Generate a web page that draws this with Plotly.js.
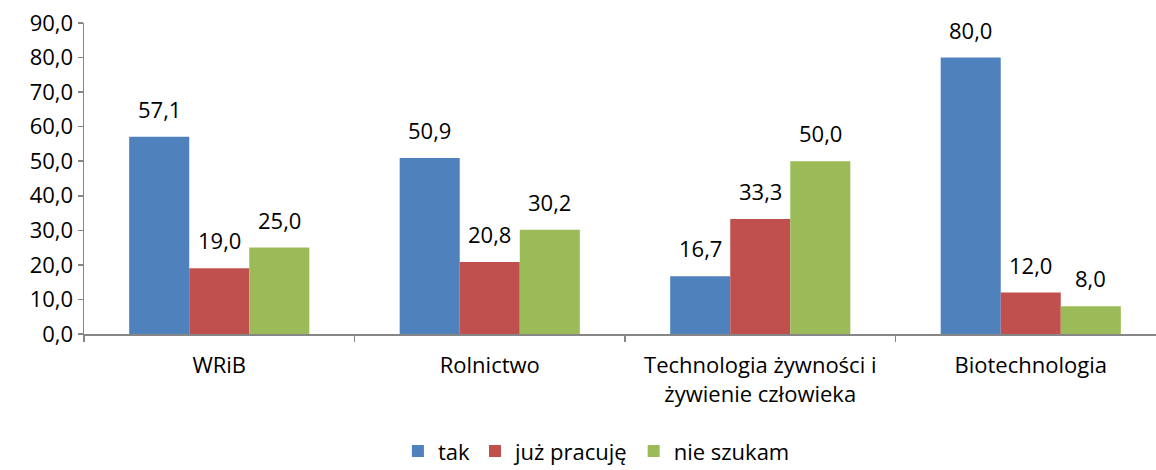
<!DOCTYPE html>
<html>
<head>
<meta charset="utf-8">
<script src="https://cdn.plot.ly/plotly-3.0.1.min.js"></script>
<style>html,body{margin:0;padding:0;background:#fff;}#chart{width:1156px;height:470px;}</style>
</head>
<body>
<div id="chart"></div>
<script>
const categories = ["WRiB", "Rolnictwo", "Technologia żywności i<br>żywienie człowieka", "Biotechnologia"];
const seriesNames = ["tak", "już pracuję", "nie szukam"];
const tak = [57.1, 50.9, 16.7, 80.0];
const pracuje = [19.0, 20.8, 33.3, 12.0];
const nieSzukam = [25.0, 30.2, 50.0, 8.0];
const yTicks = [0, 10, 20, 30, 40, 50, 60, 70, 80, 90];

const colors = ["#4F81BD", "#C0504D", "#9BBB59"];
const font = {family: "Open Sans, Liberation Sans, sans-serif", size: 22, color: "#000"};

const W = 1156, H = 470;
const margin = {l: 84, r: 0, t: 23, b: 136};
const xRange = [-0.5, 3.463];
const bargap = 0.334;
const allSeries = [tak, pracuje, nieSzukam];

const traces = allSeries.map((vals, i) => ({
  type: "bar",
  name: seriesNames[i],
  x: categories,
  y: vals,
  marker: {color: colors[i], line: {width: 0}},
  hoverinfo: "none"
}));

// data labels placed via annotations (offset per group, computed from layout)
const pxPerCat = (W - margin.l - margin.r) / (xRange[1] - xRange[0]);
const barPx = pxPerCat * (1 - bargap) / allSeries.length;
const fmt = v => v.toFixed(1).replace(".", ",");
const annotations = [];
allSeries.forEach((vals, i) => {
  vals.forEach((v, j) => {
    annotations.push({
      x: categories[j], y: v, xref: "x", yref: "y",
      text: fmt(v), showarrow: false,
      xanchor: "center", yanchor: "bottom",
      xshift: (i - (allSeries.length - 1) / 2) * barPx,
      yshift: 11,
      font: font
    });
  });
});

const layout = {
  width: W, height: H,
  margin: Object.assign({autoexpand: false}, margin),
  separators: ", ",
  font: font,
  paper_bgcolor: "#fff", plot_bgcolor: "#fff",
  barmode: "group",
  bargap: bargap,
  bargroupgap: 0,
  showlegend: true,
  annotations: annotations,
  legend: {orientation: "h", x: 0.478, xref: "paper", xanchor: "center", yref: "container", y: 0.04, yanchor: "middle", font: font, itemwidth: 30, traceorder: "normal"},
  xaxis: {
    type: "category",
    range: xRange,
    automargin: false,
    showline: true, linecolor: "#868686", linewidth: 1.5,
    ticks: "outside", tickson: "boundaries", ticklen: 6, tickcolor: "#868686", tickwidth: 1.5,
    ticklabelstandoff: 11,
    showgrid: false, zeroline: false,
    tickfont: font
  },
  yaxis: {
    range: [0, 90],
    automargin: false,
    tickvals: yTicks,
    tickformat: ".1f",
    showline: true, linecolor: "#868686", linewidth: 1.5,
    ticks: "outside", ticklen: 5, tickcolor: "#868686", tickwidth: 1.5,
    showgrid: false, zeroline: false,
    tickfont: font
  }
};

Plotly.newPlot("chart", traces, layout, {displayModeBar: false, staticPlot: true});
</script>
</body>
</html>
